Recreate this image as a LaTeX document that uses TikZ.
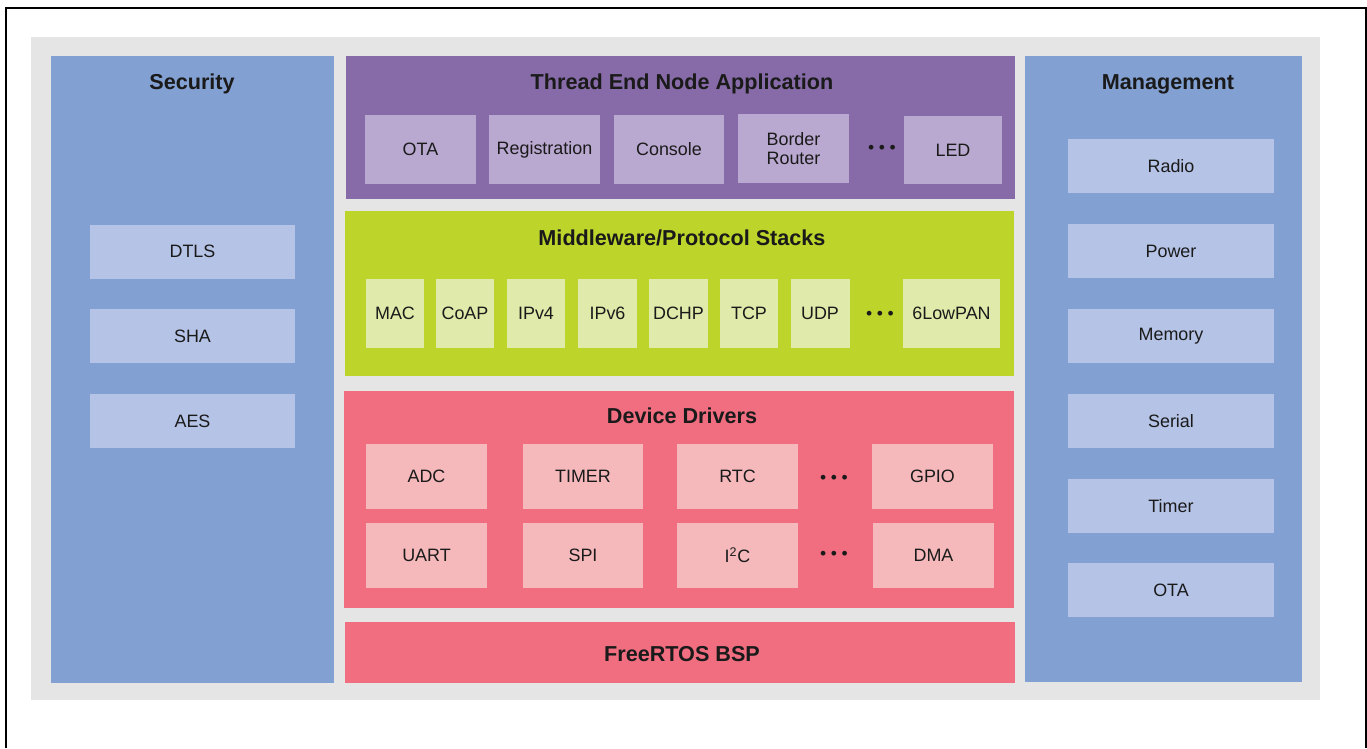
\documentclass[tikz,border=0pt]{standalone}
\usepackage{fontspec}
\setmainfont{Liberation Sans}
\definecolor{bggray}{HTML}{E5E5E5}
\definecolor{secblue}{HTML}{82A0D2}
\definecolor{secbox}{HTML}{B4C3E6}
\definecolor{apppurple}{HTML}{876BA8}
\definecolor{appbox}{HTML}{B9A8D0}
\definecolor{midgreen}{HTML}{BDD42B}
\definecolor{midbox}{HTML}{E0EAAA}
\definecolor{drvred}{HTML}{F06E80}
\definecolor{drvbox}{HTML}{F5B9BB}
\definecolor{txt}{HTML}{1A1A1A}
\tikzset{
	panel/.style={rectangle, inner sep=0pt, outer sep=0pt, draw=none},
	title/.style={txt, font=\fontsize{12.3}{14}\selectfont\bfseries},
	item/.style={rectangle, inner sep=0pt, outer sep=0pt, draw=none, txt, align=center, font=\fontsize{10.2}{12}\selectfont},
	appitem/.style={item, fill=appbox, minimum width=2.22cm, minimum height=1.38cm},
	miditem/.style={item, fill=midbox, minimum width=1.18cm, minimum height=1.38cm},
	drvitem/.style={item, fill=drvbox, minimum width=2.42cm, minimum height=1.30cm},
	sideitem/.style={item, fill=secbox, minimum width=4.12cm, minimum height=1.08cm},
	dots/.style={txt, inner sep=0pt, font=\fontsize{10}{10}\selectfont}
}
\newcommand{\threedots}{\textbullet\hspace{2.6pt}\textbullet\hspace{2.6pt}\textbullet}
\begin{document}
\begin{tikzpicture}[x=0.02cm, y=-0.02cm]
	\useasboundingbox (0,0) rectangle (1367,748);
	\fill[white] (0,0) rectangle (1367,748);
	\draw[draw=black, line width=1pt] (6,748) -- (6,8) -- (1366,8) -- (1366,748);
	\fill[bggray] (31,37) rectangle (1320,700);
	% side panels
	\node[panel, fill=secblue, minimum width=5.66cm, minimum height=12.54cm] (security) at (192.5,369.5) {};
	\node[title] (securitytitle) at (192,84) {Security};
	\node[sideitem] (dtls) at (192.5,251.5) {DTLS};
	\node[sideitem] (sha) at (192.5,336) {SHA};
	\node[sideitem] (aes) at (192.5,421) {AES};
	\node[panel, fill=secblue, minimum width=5.54cm, minimum height=12.52cm] (management) at (1163.5,369) {};
	\node[title] (managementtitle) at (1168,84) {Management};
	\node[sideitem] (radio) at (1171,166) {Radio};
	\node[sideitem] (power) at (1171,251) {Power};
	\node[sideitem] (memory) at (1171,336) {Memory};
	\node[sideitem] (serial) at (1171,421) {Serial};
	\node[sideitem] (timer) at (1171,506) {Timer};
	\node[sideitem] (mgmtota) at (1171,590) {OTA};
	% application
	\node[panel, fill=apppurple, minimum width=13.38cm, minimum height=2.86cm] (app) at (680.5,127.5) {};
	\node[title] (apptitle) at (682,84) {Thread End Node Application};
	\node[appitem] (ota) at (420.5,149.5) {OTA};
	\node[appitem] (registration) at (544.5,149.5) {Registration};
	\node[appitem] (console) at (669,149.5) {Console};
	\node[appitem] (border) at (793.5,148.5) {Border\\[-1pt]Router};
	\node[dots] (appdots) at (882,149) {\threedots};
	\node[appitem, minimum width=1.96cm] (led) at (953,150) {LED};
	% middleware
	\node[panel, fill=midgreen, minimum width=13.38cm, minimum height=3.30cm] (middleware) at (679.5,293.5) {};
	\node[title] (middlewaretitle) at (682,238) {Middleware/Protocol Stacks};
	\node[miditem] (mac) at (395,313.5) {MAC};
	\node[miditem] (coap) at (465,313.5) {CoAP};
	\node[miditem] (ipv4) at (536,313.5) {IPv4};
	\node[miditem] (ipv6) at (607.5,313.5) {IPv6};
	\node[miditem] (dchp) at (678.5,313.5) {DCHP};
	\node[miditem] (tcp) at (749,313.5) {TCP};
	\node[miditem] (udp) at (820,313.5) {UDP};
	\node[dots] (middots) at (880,315) {\threedots};
	\node[miditem, minimum width=1.94cm] (lowpan) at (951.5,313.5) {6LowPAN};
	% drivers
	\node[panel, fill=drvred, minimum width=13.40cm, minimum height=4.34cm] (drivers) at (679,499.5) {};
	\node[title] (driverstitle) at (682,416) {Device Drivers};
	\node[drvitem] (adc) at (426.5,476.5) {ADC};
	\node[drvitem] (timerdrv) at (583,476.5) {TIMER};
	\node[drvitem] (rtc) at (737.5,476.5) {RTC};
	\node[dots] (drvdotsa) at (834,479) {\threedots};
	\node[drvitem] (gpio) at (932.5,476.5) {GPIO};
	\node[drvitem] (uart) at (426.5,555.5) {UART};
	\node[drvitem] (spi) at (583,555.5) {SPI};
	\node[drvitem] (iic) at (737.5,555.5) {I\textsuperscript{2}C};
	\node[dots] (drvdotsb) at (834,555) {\threedots};
	\node[drvitem] (dma) at (933.5,555.5) {DMA};
	% bsp
	\node[panel, fill=drvred, minimum width=13.40cm, minimum height=1.22cm] (bsp) at (680,652.5) {};
	\node[title] (bsptitle) at (682,654) {FreeRTOS BSP};
\end{tikzpicture}
\end{document}
